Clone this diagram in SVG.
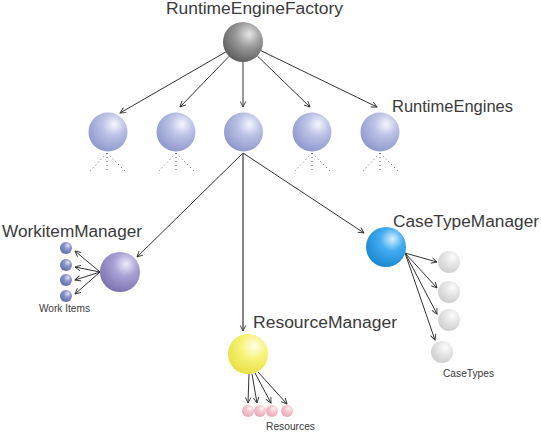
<svg xmlns="http://www.w3.org/2000/svg" width="541" height="433" viewBox="0 0 541 433">
<style>
.lbl{font-family:"Liberation Sans",Arial,sans-serif;font-size:16px;fill:#3a3a3a}
.sm{font-family:"Liberation Sans",Arial,sans-serif;font-size:10px;fill:#3a3a3a}
.ln{stroke:#333;stroke-width:1;fill:none;marker-end:url(#ah)}
.dot{stroke:#555;stroke-width:1;stroke-dasharray:1 3;fill:none}
</style>
<defs>
<marker id="ah" viewBox="0 0 10 10" refX="9" refY="5" markerWidth="7" markerHeight="7" markerUnits="userSpaceOnUse" orient="auto">
<path d="M1,1 L9,5 L1,9" fill="none" stroke="#333" stroke-width="1.3"/>
</marker>
<radialGradient id="gEng" cx="0.62" cy="0.32" r="0.72" fx="0.66" fy="0.3">
<stop offset="0" stop-color="#f6f7fd"/><stop offset="0.4" stop-color="#bcc3e6"/><stop offset="1" stop-color="#8d97cc"/></radialGradient>
<radialGradient id="gFac" cx="0.62" cy="0.32" r="0.72" fx="0.66" fy="0.3">
<stop offset="0" stop-color="#e6e6e6"/><stop offset="0.45" stop-color="#999"/><stop offset="1" stop-color="#5c5c5c"/></radialGradient>
<radialGradient id="gWM" cx="0.62" cy="0.32" r="0.72" fx="0.66" fy="0.3">
<stop offset="0" stop-color="#eeecf8"/><stop offset="0.4" stop-color="#aaa3d6"/><stop offset="1" stop-color="#7a70b0"/></radialGradient>
<radialGradient id="gRM" cx="0.62" cy="0.32" r="0.72" fx="0.66" fy="0.3">
<stop offset="0" stop-color="#ffffe8"/><stop offset="0.45" stop-color="#f8f27a"/><stop offset="1" stop-color="#e8e040"/></radialGradient>
<radialGradient id="gCT" cx="0.62" cy="0.32" r="0.72" fx="0.66" fy="0.3">
<stop offset="0" stop-color="#d8f0ff"/><stop offset="0.4" stop-color="#42adf0"/><stop offset="1" stop-color="#1a86d0"/></radialGradient>
<radialGradient id="gWI" cx="0.62" cy="0.32" r="0.72" fx="0.66" fy="0.3">
<stop offset="0" stop-color="#e2e6f6"/><stop offset="0.4" stop-color="#8c96ca"/><stop offset="1" stop-color="#5e6ca6"/></radialGradient>
<radialGradient id="gRes" cx="0.62" cy="0.32" r="0.72" fx="0.66" fy="0.3">
<stop offset="0" stop-color="#fff4f6"/><stop offset="0.4" stop-color="#f4c8d0"/><stop offset="1" stop-color="#e6a8b4"/></radialGradient>
<radialGradient id="gCTy" cx="0.62" cy="0.32" r="0.72" fx="0.66" fy="0.3">
<stop offset="0" stop-color="#fcfcfc"/><stop offset="0.45" stop-color="#e6e6e6"/><stop offset="1" stop-color="#cdcdcd"/></radialGradient>
</defs>

<g id="connectors">
<line class="ln" x1="225.7" y1="52" x2="120" y2="113"/>
<line class="ln" x1="229" y1="56.4" x2="180" y2="107"/>
<line class="ln" x1="243" y1="62" x2="243" y2="107"/>
<line class="ln" x1="257.4" y1="56" x2="310" y2="107"/>
<line class="ln" x1="261" y1="50.7" x2="377" y2="107"/>
<line class="ln" x1="243" y1="153" x2="137" y2="257"/>
<line class="ln" x1="243" y1="153" x2="243" y2="331" style="stroke:#555;stroke-width:1.4"/>
<line class="ln" x1="243" y1="153" x2="364" y2="233"/>
<line class="ln" x1="100" y1="272" x2="75" y2="251"/>
<line class="ln" x1="100" y1="272" x2="75" y2="267"/>
<line class="ln" x1="100" y1="272" x2="75" y2="280"/>
<line class="ln" x1="100" y1="272" x2="75" y2="294"/>
<line class="ln" x1="249" y1="374" x2="248" y2="403"/>
<line class="ln" x1="252" y1="374" x2="257" y2="403"/>
<line class="ln" x1="255" y1="373" x2="271" y2="403"/>
<line class="ln" x1="258" y1="372" x2="287" y2="404"/>
<line class="ln" x1="405" y1="253" x2="437" y2="262"/>
<line class="ln" x1="405" y1="253" x2="437" y2="288"/>
<line class="ln" x1="405" y1="253" x2="437" y2="314"/>
<line class="ln" x1="405" y1="253" x2="435" y2="340"/>
</g>

<g id="factory">
<circle cx="243" cy="42" r="20" fill="url(#gFac)"/>
<text class="lbl" x="166" y="14" textLength="177" lengthAdjust="spacingAndGlyphs">RuntimeEngineFactory</text>
</g>

<g id="engine1">
<circle cx="108" cy="132" r="19.5" fill="url(#gEng)"/>
<path class="dot" d="M107,153 L90,171 M107,153 L107,173 M107,153 L125,171"/>
</g>
<g id="engine2">
<circle cx="176" cy="132" r="19.5" fill="url(#gEng)"/>
<path class="dot" d="M176,153 L159,171 M176,153 L176,173 M176,153 L194,171"/>
</g>
<g id="engine3">
<circle cx="243.5" cy="132" r="19.5" fill="url(#gEng)"/>
</g>
<g id="engine4">
<circle cx="312" cy="132" r="19.5" fill="url(#gEng)"/>
<path class="dot" d="M312,153 L295,171 M312,153 L312,173 M312,153 L330,171"/>
</g>
<g id="engine5">
<circle cx="380" cy="132" r="19.5" fill="url(#gEng)"/>
<path class="dot" d="M380,153 L363,171 M380,153 L380,173 M380,153 L398,171"/>
<text class="lbl" x="392" y="112" textLength="121" lengthAdjust="spacingAndGlyphs">RuntimeEngines</text>
</g>

<g id="workitemManager">
<circle cx="120" cy="272" r="20" fill="url(#gWM)"/>
<text class="lbl" x="2" y="237" textLength="140" lengthAdjust="spacingAndGlyphs">WorkitemManager</text>
</g>
<g id="workItems">
<circle cx="66" cy="248" r="6" fill="url(#gWI)"/>
<circle cx="66" cy="265" r="6" fill="url(#gWI)"/>
<circle cx="66" cy="280" r="6" fill="url(#gWI)"/>
<circle cx="66" cy="296" r="6" fill="url(#gWI)"/>
<text class="sm" x="39" y="312" textLength="51" lengthAdjust="spacingAndGlyphs">Work Items</text>
</g>

<g id="resourceManager">
<circle cx="248" cy="354" r="20" fill="url(#gRM)"/>
<text class="lbl" x="253" y="328" textLength="144" lengthAdjust="spacingAndGlyphs">ResourceManager</text>
</g>
<g id="resources">
<circle cx="248" cy="411" r="6" fill="url(#gRes)"/>
<circle cx="260" cy="411" r="6" fill="url(#gRes)"/>
<circle cx="272" cy="411" r="6" fill="url(#gRes)"/>
<circle cx="287" cy="411" r="6" fill="url(#gRes)"/>
<text class="sm" x="266" y="430" textLength="49" lengthAdjust="spacingAndGlyphs">Resources</text>
</g>

<g id="caseTypeManager">
<circle cx="386" cy="247" r="20" fill="url(#gCT)"/>
<text class="lbl" x="393" y="227" textLength="146" lengthAdjust="spacingAndGlyphs">CaseTypeManager</text>
</g>
<g id="caseTypes">
<circle cx="449" cy="262" r="11" fill="url(#gCTy)"/>
<circle cx="449" cy="292" r="11" fill="url(#gCTy)"/>
<circle cx="449" cy="320" r="11" fill="url(#gCTy)"/>
<circle cx="442" cy="352" r="11" fill="url(#gCTy)"/>
<text class="sm" x="443" y="377" textLength="51" lengthAdjust="spacingAndGlyphs">CaseTypes</text>
</g>
</svg>
